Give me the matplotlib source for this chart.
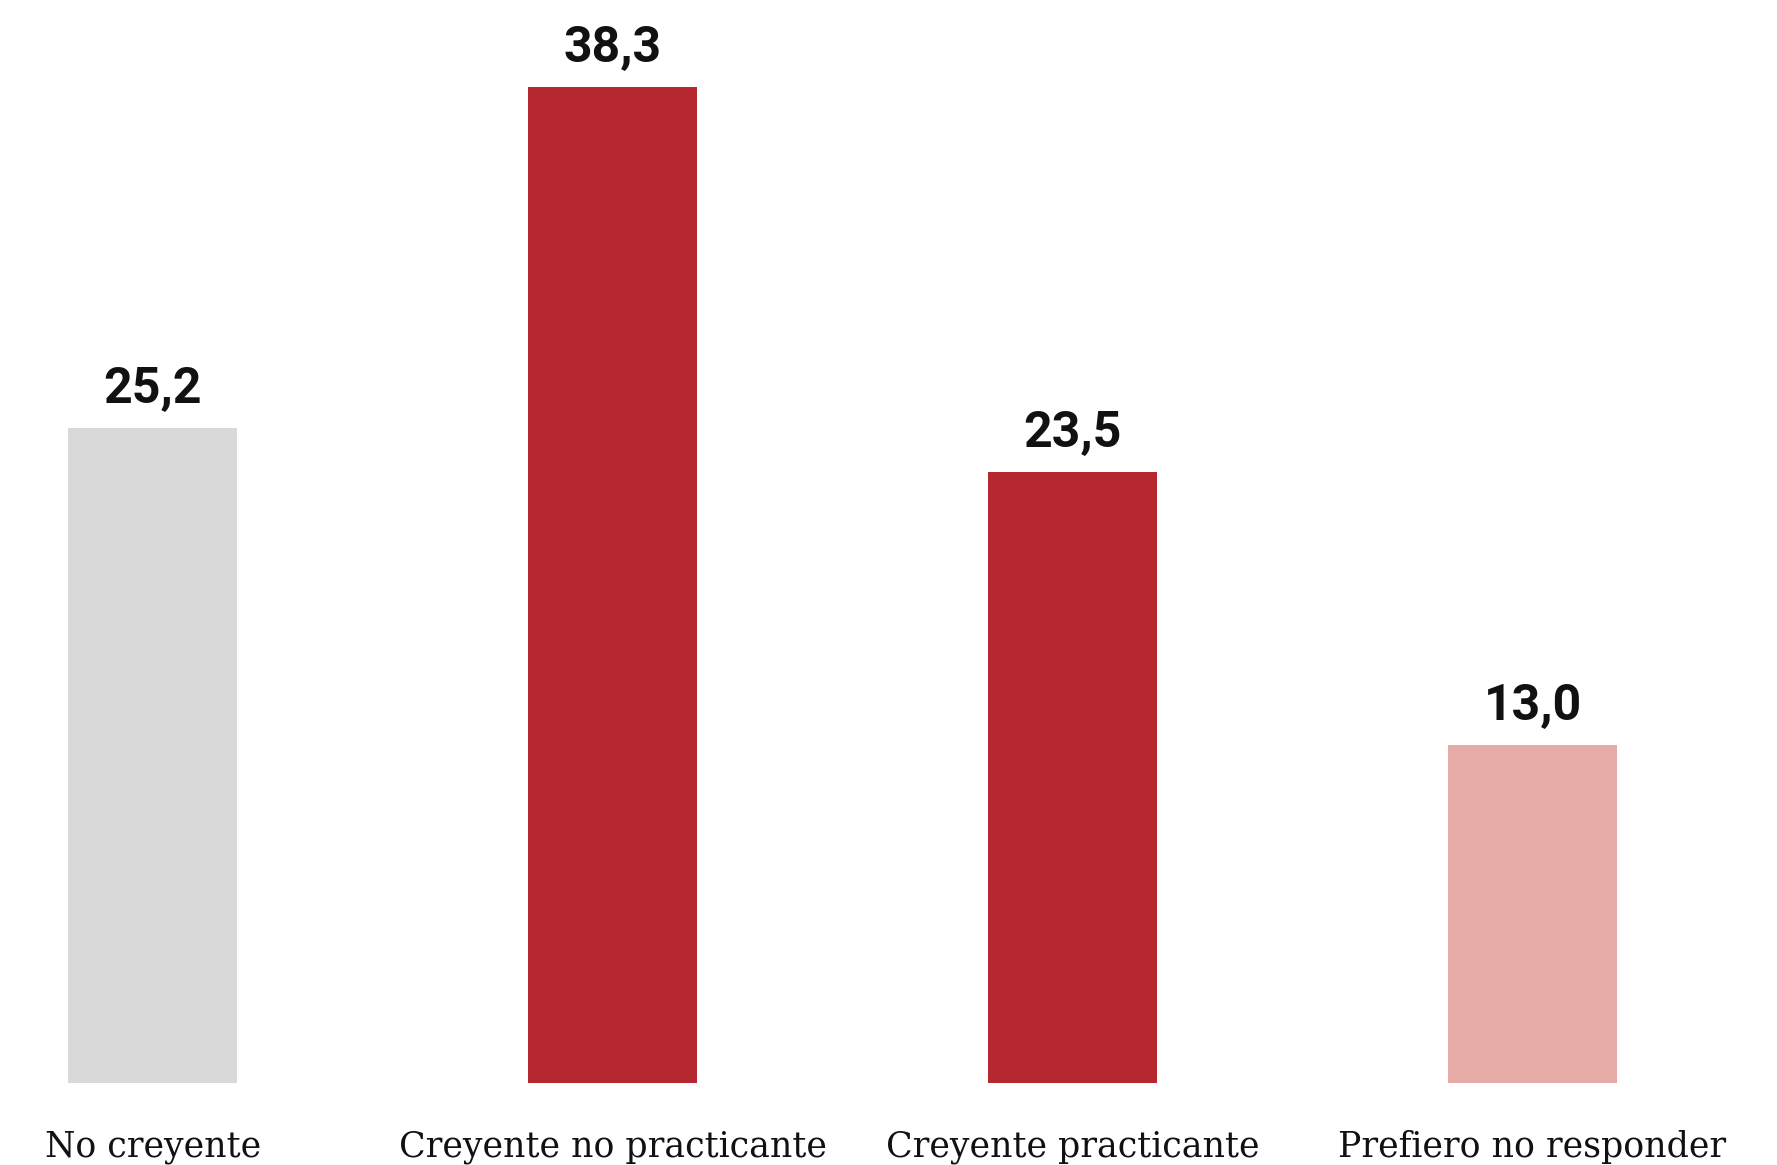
import matplotlib
matplotlib.use("Agg")
import matplotlib.pyplot as plt

categories = ["No creyente", "Creyente no practicante", "Creyente practicante", "Prefiero no responder"]
values = [25.2, 38.3, 23.5, 13.0]
value_labels = ["25,2", "38,3", "23,5", "13,0"]
colors = ["#D9D9D9", "#B5282F", "#B5282F", "#E6ABA6"]

W, H = 1777, 1165
fig = plt.figure(figsize=(W / 100, H / 100), dpi=100)
ax = fig.add_axes([0, 82 / H, 1, (H - 82) / H])

x = list(range(len(categories)))
ax.bar(x, values, width=0.368, color=colors)
ax.set_xlim(-152.5 / 459, 3 + (W - 1533) / 459)
ax.set_ylim(0, 1083 / 26.0)
ax.axis("off")

for xi, v, lab in zip(x, values, value_labels):
    ax.annotate(lab, (xi, v), xytext=(0, 18), textcoords="offset points",
                ha="center", va="baseline", fontsize=36, fontweight="bold",
                family="Roboto", color="#111111")

for xi, cat in zip(x, categories):
    ax.annotate(cat, (xi, 0), xytext=(0, -53), textcoords="offset points",
                ha="center", va="baseline", fontsize=25, family="DejaVu Serif",
                color="#111111", annotation_clip=False)

fig.savefig("out.png", dpi=100)
